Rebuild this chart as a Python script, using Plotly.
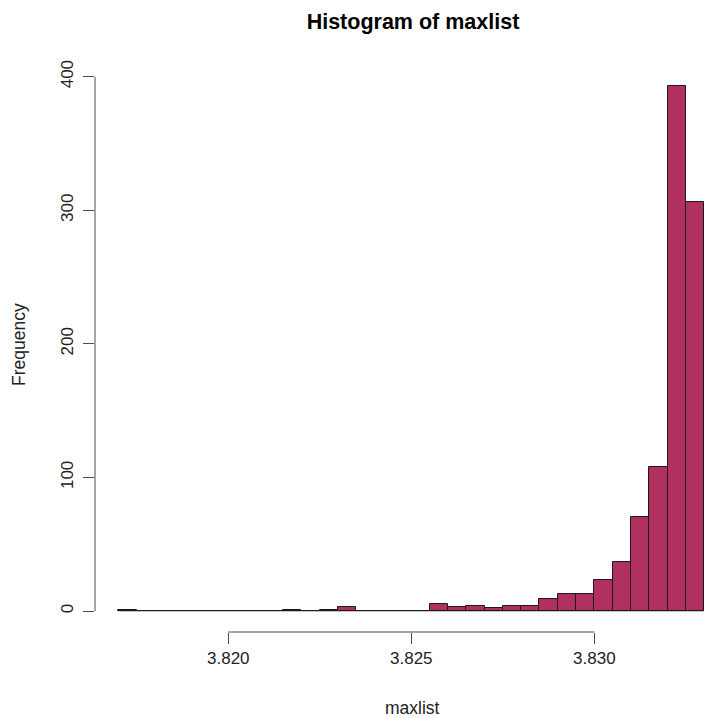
import plotly.graph_objects as go

# Histogram of maxlist: equal-width bins, counts per bin
bin_start = 3.817
bin_width = 0.0005
counts = [1, 0, 0, 0, 0, 0, 0, 0, 0, 1, 0, 1, 3, 0, 0, 0,
          0, 5, 3, 4, 2, 4, 4, 9, 13, 13, 23, 37, 70, 108, 393, 306]

x_ticks = [3.820, 3.825, 3.830]
x_tick_labels = ["3.820", "3.825", "3.830"]
y_ticks = [0, 100, 200, 300, 400]
y_tick_labels = ["0", "100", "200", "300", "400"]

title_text = "Histogram of maxlist"
x_label = "maxlist"
y_label = "Frequency"

n_bins = len(counts)
centers = [bin_start + (i + 0.5) * bin_width for i in range(n_bins)]
bin_end = bin_start + n_bins * bin_width

FONT = "Liberation Sans, Arial, Helvetica, sans-serif"
AXIS_COL = "#4d4d4d"

# R-style axis limits: data range padded by 4% on each side
x_lo = bin_start - 0.04 * (bin_end - bin_start)
x_hi = 3.83305
y_max = max(counts)
y_lo = -0.04 * y_max
y_hi = y_max * 1.04

fig = go.Figure()
fig.add_trace(go.Bar(
    x=centers,
    y=counts,
    width=[bin_width] * n_bins,
    marker=dict(color="#B03060", line=dict(color="#1a1a1a", width=1)),
    showlegend=False,
    hoverinfo="x+y",
))

shapes = [
    # baseline under all bins (zero-height bins show as a line)
    dict(type="line", xref="x", yref="y", x0=bin_start, x1=bin_end, y0=0, y1=0,
         line=dict(color="#8c8c8c", width=1), layer="below"),
    # x axis spine, from first to last tick
    dict(type="line", xref="x", yref="paper", x0=x_ticks[0], x1=x_ticks[-1], y0=0, y1=0,
         line=dict(color=AXIS_COL, width=1)),
    # y axis spine, from first to last tick
    dict(type="line", xref="paper", yref="y", x0=0, x1=0, y0=y_ticks[0], y1=y_ticks[-1],
         line=dict(color=AXIS_COL, width=1)),
]

fig.update_layout(
    width=706, height=718,
    margin=dict(l=95, r=0, t=65, b=86, pad=0),
    paper_bgcolor="white",
    plot_bgcolor="white",
    bargap=0,
    shapes=shapes,
    title=dict(
        text=f"<b>{title_text}</b>",
        x=413 / 706, xanchor="center", xref="container",
        y=1 - 21 / 718, yanchor="middle", yref="container",
        font=dict(family=FONT, size=21.5, color="#000000"),
    ),
    xaxis=dict(
        range=[x_lo, x_hi],
        showgrid=False, zeroline=False, showline=False,
        tickmode="array", tickvals=x_ticks, ticktext=x_tick_labels,
        ticks="outside", ticklen=11, tickwidth=1, tickcolor=AXIS_COL,
        tickfont=dict(family=FONT, size=17, color="#222222"),
        ticklabelstandoff=0,
    ),
    yaxis=dict(
        range=[y_lo, y_hi],
        showgrid=False, zeroline=False, showline=False,
        tickmode="array", tickvals=y_ticks, ticktext=y_tick_labels,
        ticks="outside", ticklen=11, tickwidth=1, tickcolor=AXIS_COL,
        tickangle=-90,
        tickfont=dict(family=FONT, size=17, color="#222222"),
        ticklabelstandoff=3,
    ),
    annotations=[
        dict(text=x_label, xref="paper", yref="paper",
             x=(412 - 95) / 611, y=(632 - 708) / 567,
             xanchor="center", yanchor="middle", showarrow=False,
             font=dict(family=FONT, size=17.5, color="#222222")),
        dict(text=y_label, xref="paper", yref="paper",
             x=(19 - 95) / 611, y=(632 - 345) / 567, textangle=-90,
             xanchor="center", yanchor="middle", showarrow=False,
             font=dict(family=FONT, size=17.5, color="#222222")),
    ],
)

fig.write_html("out.html")
